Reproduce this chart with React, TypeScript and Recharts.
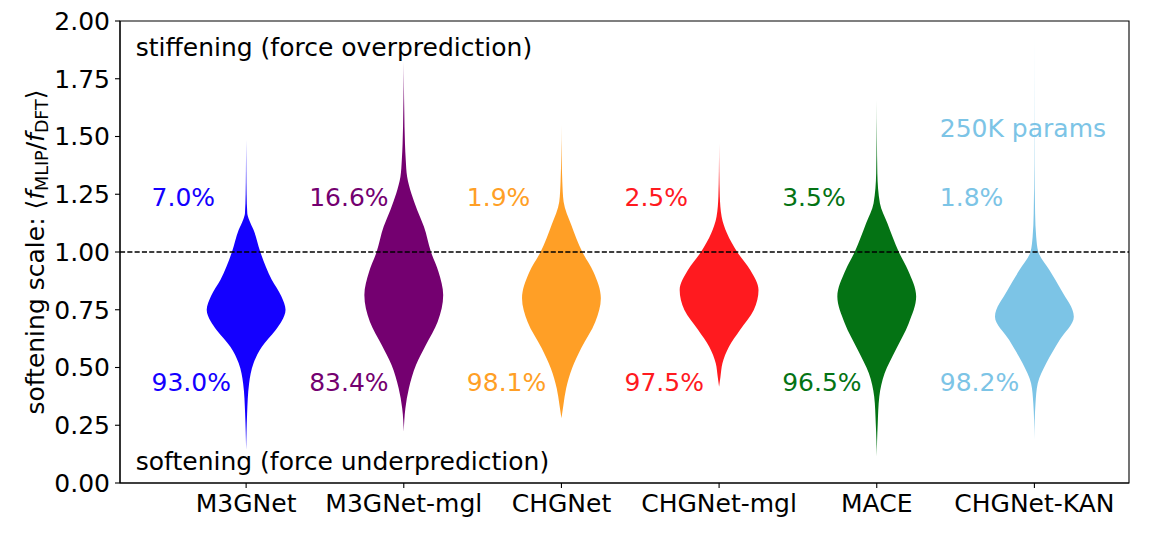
import React from 'react';
import {
  ComposedChart,
  Area,
  XAxis,
  YAxis,
  ReferenceLine,
  ReferenceDot,
  ReferenceArea,
} from 'recharts';

const FONT = '"DejaVu Sans", sans-serif';
const FS = 25;

const categories = ['M3GNet', 'M3GNet-mgl', 'CHGNet', 'CHGNet-mgl', 'MACE', 'CHGNet-KAN'];
const positions = [1, 2, 3, 4, 5, 6];
const colors = ['#1400ff', '#740070', '#ff9f26', '#ff1a1f', '#047314', '#7cc4e6'];
const stiffPct = ['7.0%', '16.6%', '1.9%', '2.5%', '3.5%', '1.8%'];
const softPct = ['93.0%', '83.4%', '98.1%', '97.5%', '96.5%', '98.2%'];
const yTicks = [0, 0.25, 0.5, 0.75, 1.0, 1.25, 1.5, 1.75, 2.0];

// violin outlines: y levels and relative density (1 = widest point)
const m3gnetLevels = [0.143, 0.22, 0.3, 0.43, 0.52, 0.59, 0.66, 0.7, 0.75, 0.81, 0.88, 1.0, 1.095, 1.14, 1.167, 1.25, 1.35, 1.485];
const m3gnetDensity = [0, 0.01, 0.025, 0.075, 0.19, 0.4, 0.74, 0.9, 1.0, 0.89, 0.65, 0.36, 0.19, 0.075, 0.03, 0.012, 0.005, 0];

const m3gnetMglLevels = [0.222, 0.323, 0.41, 0.511, 0.597, 0.698, 0.814, 0.915, 1.0, 1.11, 1.182, 1.254, 1.326, 1.398, 1.47, 1.615, 1.72, 1.824];
const m3gnetMglDensity = [0, 0.04, 0.13, 0.31, 0.56, 0.86, 1.0, 0.88, 0.69, 0.51, 0.34, 0.19, 0.085, 0.05, 0.03, 0.012, 0.004, 0];

const chgnetLevels = [0.28, 0.338, 0.41, 0.497, 0.583, 0.698, 0.8, 0.915, 1.0, 1.117, 1.218, 1.304, 1.42, 1.55];
const chgnetDensity = [0, 0.05, 0.12, 0.27, 0.5, 0.86, 1.0, 0.81, 0.53, 0.25, 0.055, 0.022, 0.006, 0];

const chgnetMglLevels = [0.417, 0.46, 0.518, 0.59, 0.662, 0.749, 0.835, 0.922, 1.0, 1.081, 1.153, 1.24, 1.35, 1.47];
const chgnetMglDensity = [0, 0.035, 0.085, 0.25, 0.53, 0.88, 1.0, 0.79, 0.46, 0.2, 0.065, 0.018, 0.005, 0];

const maceLevels = [0.114, 0.18, 0.258, 0.374, 0.475, 0.576, 0.691, 0.807, 0.922, 1.0, 1.124, 1.211, 1.34, 1.5, 1.658];
const maceDensity = [0, 0.008, 0.025, 0.065, 0.2, 0.48, 0.81, 1.0, 0.79, 0.56, 0.27, 0.08, 0.015, 0.004, 0];

const kanLevels = [0.186, 0.27, 0.345, 0.432, 0.518, 0.619, 0.72, 0.835, 0.922, 1.0, 1.066, 1.167, 1.384, 1.65, 1.932];
const kanDensity = [0, 0.008, 0.028, 0.085, 0.3, 0.64, 1.0, 0.68, 0.38, 0.1, 0.045, 0.018, 0.004, 0.0015, 0];

const violinLevels = [m3gnetLevels, m3gnetMglLevels, chgnetLevels, chgnetMglLevels, maceLevels, kanLevels];
const violinDensity = [m3gnetDensity, m3gnetMglDensity, chgnetDensity, chgnetMglDensity, maceDensity, kanDensity];

const HALF_WIDTH = 0.25;

const violinRows = violinLevels.map((levels, vi) =>
  levels.map((y, i) => ({
    y,
    range: [
      positions[vi] - HALF_WIDTH * violinDensity[vi][i],
      positions[vi] + HALF_WIDTH * violinDensity[vi][i],
    ],
  }))
);

const textAt = (text: string, color: string) => (props: any) => {
  const vb = props.viewBox || {};
  return (
    <text x={vb.x} y={vb.y} fill={color} fontSize={FS} fontFamily={FONT} textAnchor="start">
      {text}
    </text>
  );
};

const YLabel = (props: any) => {
  const vb = props.viewBox || { x: 0, y: 21, width: 120, height: 462 };
  const x = vb.x + 44;
  const y = vb.y + vb.height / 2;
  return (
    <text
      transform={`translate(${x},${y}) rotate(-90)`}
      textAnchor="middle"
      fontSize={FS}
      fontFamily={FONT}
      fill="#000"
    >
      softening scale: ⟨<tspan fontStyle="italic">f</tspan>
      <tspan fontSize={17.5} dy={4}>MLIP</tspan>
      <tspan dy={-4}>/</tspan>
      <tspan fontStyle="italic">f</tspan>
      <tspan fontSize={17.5} dy={4}>DFT</tspan>
      <tspan dy={-4}>⟩</tspan>
    </text>
  );
};

export default function App() {
  return (
    <div style={{ position: 'absolute', left: 0, top: 0, background: '#fff' }}>
      <ComposedChart
        width={1155}
        height={534}
        layout="vertical"
        margin={{ top: 21, right: 26, bottom: 0, left: 0 }}
      >
        <XAxis
          type="number"
          domain={[0.2, 6.6]}
          ticks={positions}
          interval={0}
          allowDataOverflow
          tickFormatter={(v: number) => categories[Math.round(v) - 1]}
          tickSize={5}
          tickMargin={6}
          height={51}
          tick={{ fontSize: FS, fill: '#000', fontFamily: FONT }}
          axisLine={{ stroke: '#000', strokeWidth: 1.1 }}
          tickLine={{ stroke: '#000', strokeWidth: 1.1 }}
        />
        <YAxis
          type="number"
          dataKey="y"
          domain={[0, 2]}
          reversed
          ticks={yTicks}
          interval={0}
          allowDataOverflow
          tickFormatter={(v: number) => v.toFixed(2)}
          tickSize={5}
          tickMargin={5}
          width={120}
          tick={{ fontSize: FS, fill: '#000', fontFamily: FONT }}
          axisLine={{ stroke: '#000', strokeWidth: 1.1 }}
          tickLine={{ stroke: '#000', strokeWidth: 1.1 }}
          label={YLabel}
        />
        {violinRows.map((rows, i) => (
          <Area
            key={categories[i]}
            data={rows}
            dataKey="range"
            type="monotone"
            fill={colors[i]}
            fillOpacity={1}
            stroke="none"
            dot={false}
            activeDot={false}
            isAnimationActive={false}
          />
        ))}
        <ReferenceLine y={1} stroke="#000" strokeWidth={1.3} strokeDasharray="5.1 2.2" />
        <ReferenceArea
          x1={0.2}
          x2={6.6}
          y1={0}
          y2={2}
          fill="none"
          fillOpacity={0}
          stroke="#000"
          strokeWidth={1.1}
        />
        {positions.map((p, i) => (
          <ReferenceDot
            key={'s' + i}
            x={p - 0.6}
            y={1.2}
            r={0}
            fill="none"
            stroke="none"
            label={textAt(stiffPct[i], colors[i])}
          />
        ))}
        {positions.map((p, i) => (
          <ReferenceDot
            key={'u' + i}
            x={p - 0.6}
            y={0.4}
            r={0}
            fill="none"
            stroke="none"
            label={textAt(softPct[i], colors[i])}
          />
        ))}
        <ReferenceDot x={5.4} y={1.5} r={0} fill="none" stroke="none" label={textAt('250K params', colors[5])} />
        <ReferenceDot x={0.3} y={1.85} r={0} fill="none" stroke="none" label={textAt('stiffening (force overprediction)', '#000')} />
        <ReferenceDot x={0.3} y={0.056} r={0} fill="none" stroke="none" label={textAt('softening (force underprediction)', '#000')} />
      </ComposedChart>
    </div>
  );
}
